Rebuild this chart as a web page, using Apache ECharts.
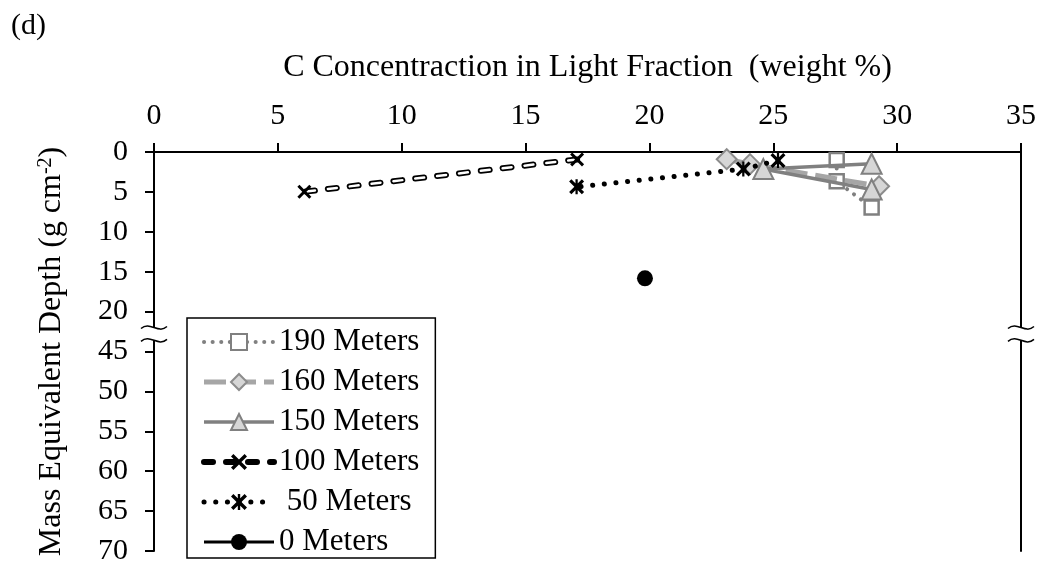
<!DOCTYPE html>
<html><head><meta charset="utf-8">
<script src="https://cdn.jsdelivr.net/npm/echarts@6/dist/echarts.min.js"></script>
<style>html,body{margin:0;padding:0;background:#fff}#c{width:1040px;height:566px}</style>
</head><body><div id="c"></div>
<script>
// ---- data ----
const xTickValues = [0, 5, 10, 15, 20, 25, 30, 35];
const yTickLabels = ['0', '5', '10', '15', '20', '45', '50', '55', '60', '65', '70'];
const seriesNames = ['190 Meters', '160 Meters', '150 Meters', '100 Meters', ' 50 Meters', '0 Meters'];
const conc190 = [27.56, 27.56, 28.97];
const depth190 = [0.99, 3.67, 6.96];
const conc160 = [23.12, 24.06, 29.27];
const depth160 = [0.90, 1.52, 4.29];
const conc150 = [28.97, 24.60, 28.97];
const depth150 = [1.48, 2.14, 4.70];
const conc100 = [17.08, 6.07];
const depth100 = [0.93, 4.98];
const conc50 = [25.19, 23.79, 17.06];
const depth50 = [1.05, 2.14, 4.37];
const conc0 = [19.82];
const depth0 = [15.83];

// broken axis: 20..45 collapsed into one tick interval
const BREAK_LO = 20, BREAK_HI = 45;
function disp(d) { return d <= BREAK_LO ? d : d - (BREAK_HI - BREAK_LO) + 5; }
function pairs(xs, ys) { return xs.map((x, i) => [x, disp(ys[i])]); }

const FONT = '"Liberation Serif", "Times New Roman", serif';
const X_PATH = 'path://M0,3 L3,0 L10,7 L17,0 L20,3 L13,10 L20,17 L17,20 L10,13 L3,20 L0,17 L7,10 Z';
const AST_PATH = 'path://M0,3 L3,0 L10,7 L17,0 L20,3 L13,10 L20,17 L17,20 L10,13 L3,20 L0,17 L7,10 Z M8.5,0 L11.5,0 L11.5,20 L8.5,20 Z';

const chart = echarts.init(document.getElementById('c'), null, {renderer: 'canvas'});
const option = {
  animation: false,
  backgroundColor: '#fff',
  textStyle: {fontFamily: FONT},
  title: {text: '(d)', left: 6, top: 6, textStyle: {fontFamily: FONT, fontSize: 30, fontWeight: 'normal', color: '#000'}},
  grid: {left: 154, right: 19, top: 152, bottom: 10, containLabel: false},
  legend: {
    orient: 'vertical', left: 187, top: 318,
    data: seriesNames,
    itemWidth: 70, itemHeight: 20, itemGap: 8,
    padding: [8, 16, 0, 14],
    borderColor: '#000', borderWidth: 1.5, backgroundColor: '#fff',
    lineStyle: {width: 'inherit'},
    textStyle: {fontFamily: FONT, fontSize: 31, color: '#000', lineHeight: 32},
    selectedMode: false
  },
  xAxis: {
    type: 'value', position: 'top', min: 0, max: 35, interval: 5,
    name: 'C Concentraction in Light Fraction  (weight %)',
    nameLocation: 'middle', nameGap: 68,
    nameTextStyle: {fontFamily: FONT, fontSize: 32, color: '#000'},
    axisLine: {show: true, onZero: false, lineStyle: {color: '#000', width: 2}},
    axisTick: {show: true, inside: false, length: 9, lineStyle: {color: '#000', width: 2}},
    axisLabel: {fontFamily: FONT, fontSize: 30, color: '#000', margin: 21,
      formatter: v => xTickValues.includes(v) ? String(v) : ''},
    splitLine: {show: false}
  },
  yAxis: [{
    type: 'value', inverse: true, min: 0, max: 50, interval: 5,
    name: 'Mass Equivalent Depth (g cm{sup|-2})',
    nameLocation: 'middle', nameGap: 86, nameRotate: 90,
    nameTextStyle: {fontFamily: FONT, fontSize: 32, color: '#000',
      rich: {sup: {fontFamily: FONT, fontSize: 20, color: '#000', verticalAlign: 'top', padding: [0, 0, 12, 0]}}},
    axisLine: {show: true, onZero: false, lineStyle: {color: '#000', width: 2}},
    axisTick: {show: true, inside: false, length: 9, lineStyle: {color: '#000', width: 2}},
    axisLabel: {fontFamily: FONT, fontSize: 30, color: '#000', margin: 26,
      formatter: v => yTickLabels[Math.round(v / 5)] || ''},
    splitLine: {show: false}
  }, {
    type: 'value', inverse: true, min: 0, max: 50, position: 'right',
    axisLine: {show: true, onZero: false, lineStyle: {color: '#000', width: 2}},
    axisTick: {show: false}, axisLabel: {show: false}, splitLine: {show: false}
  }],
  series: [
    {name: seriesNames[0], type: 'line', data: pairs(conc190, depth190),
      symbol: 'rect', symbolSize: 14,
      itemStyle: {color: '#ffffff', borderColor: '#808080', borderWidth: 2.5},
      lineStyle: {color: '#808080', width: 4, type: [0.1, 8.5], cap: 'round'}, z: 2},
    {name: seriesNames[1], type: 'line', data: pairs(conc160, depth160),
      symbol: 'diamond', symbolSize: 20,
      itemStyle: {color: '#d6d6d6', borderColor: '#8c8c8c', borderWidth: 2},
      lineStyle: {color: '#a6a6a6', width: 5, type: [22, 8]}, z: 3},
    {name: seriesNames[2], type: 'line', data: pairs(conc150, depth150),
      symbol: 'triangle', symbolSize: 20,
      itemStyle: {color: '#d6d6d6', borderColor: '#808080', borderWidth: 2},
      lineStyle: {color: '#808080', width: 3.5, type: 'solid'}, z: 4},
    {name: seriesNames[3], type: 'line', data: pairs(conc100, depth100),
      symbol: X_PATH, symbolSize: 14,
      itemStyle: {color: '#000', borderWidth: 0},
      lineStyle: {color: '#000', width: 6, type: [9, 13], cap: 'round'}, z: 5},
    // white core of the outlined dashes (not in legend)
    {name: '100 Meters core', type: 'line', data: pairs(conc100, depth100),
      symbol: 'none', silent: true, tooltip: {show: false},
      lineStyle: {color: '#fff', width: 2.5, type: [9, 13], cap: 'round'}, z: 5},
    {name: seriesNames[4], type: 'line', data: pairs(conc50, depth50),
      symbol: AST_PATH, symbolSize: 15,
      itemStyle: {color: '#000', borderWidth: 0},
      lineStyle: {color: '#000', width: 5, type: [0.1, 11.6], cap: 'round'}, z: 6},
    {name: seriesNames[5], type: 'line', data: pairs(conc0, depth0),
      symbol: 'circle', symbolSize: 16,
      itemStyle: {color: '#000', borderWidth: 0},
      lineStyle: {color: '#000', width: 3, type: 'solid'}, z: 7}
  ]
};
chart.setOption(option);

// axis-break marks positioned through the axes
function breakMarks() {
  const g = [];
  [0, 35].forEach(xv => {
    const p1 = chart.convertToPixel({gridIndex: 0}, [xv, 22.0]);
    const p2 = chart.convertToPixel({gridIndex: 0}, [xv, 23.6]);
    const cx = p1[0];
    g.push({type: 'rect', z: 100, shape: {x: cx - 4, y: p1[1], width: 8, height: p2[1] - p1[1]},
      style: {fill: '#fff'}});
    [p1[1], p2[1]].forEach(cy => {
      g.push({type: 'bezierCurve', z: 101,
        shape: {x1: cx - 13, y1: cy + 1, cpx1: cx - 4, cpy1: cy - 7, cpx2: cx + 4, cpy2: cy + 7, x2: cx + 13, y2: cy - 1},
        style: {fill: null, stroke: '#000', lineWidth: 1.5}});
    });
  });
  chart.setOption({graphic: g});
}
breakMarks();
</script></body></html>
